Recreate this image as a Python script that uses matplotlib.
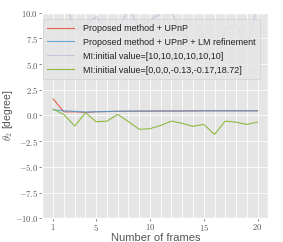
import matplotlib
matplotlib.use("Agg")
import matplotlib.pyplot as plt
from matplotlib.ticker import FuncFormatter, FixedLocator

plt.style.use("ggplot")
plt.rcParams["mathtext.fontset"] = "cm"
plt.rcParams["font.family"] = ["Liberation Sans", "DejaVu Sans"]

frames = list(range(1, 21))
upnp = [1.6, 0.35, 0.35, 0.3, 0.36, 0.38, 0.4, 0.41, 0.42, 0.42, 0.43, 0.43, 0.43, 0.44, 0.45, 0.45, 0.45, 0.45, 0.45, 0.45]
upnp_lm = [0.55, 0.45, 0.4, 0.33, 0.36, 0.38, 0.4, 0.41, 0.42, 0.42, 0.43, 0.43, 0.43, 0.44, 0.45, 0.45, 0.45, 0.45, 0.45, 0.45]
mi_10 = [16.0, 11.5, 8.3, 8.8, 9.6, 8.4, 8.1, 10.4, 8.6, 9.3, 9.9, 9.9, 8.2, 7.0, 8.0, 3.6, 8.5, 8.8, 6.7, 10.6]
mi_0 = [0.62, 0.08, -1.03, 0.26, -0.61, -0.55, 0.1, -0.61, -1.35, -1.29, -0.97, -0.55, -0.77, -1.06, -0.87, -1.84, -0.55, -0.65, -0.87, -0.65]
labels = ["Proposed method + UPnP",
          "Proposed method + UPnP + LM refinement",
          "MI:initial value=[10,10,10,10,10,10]",
          "MI:initial value=[0,0,0,-0.13,-0.17,18.72]"]
major_xticks = [1, 5, 10, 15, 20]
yticks = [-10.0, -7.5, -5.0, -2.5, 0.0, 2.5, 5.0, 7.5, 10.0]

fig = plt.figure(figsize=(2.83, 2.42), dpi=100)
ax = fig.add_axes([0.150, 0.098, 0.798, 0.850])

ax.plot(frames, upnp, color="#E24A33", lw=0.8, alpha=0.85, label=labels[0])
ax.plot(frames, upnp_lm, color="#4A9BD0", lw=0.8, alpha=0.85, label=labels[1])
ax.plot(frames, mi_10, color="#988ED5", lw=0.6, alpha=0.5, label=labels[2])
ax.plot(frames, mi_0, color="#8EBA42", lw=0.8, label=labels[3])

ax.set_xlim(0, 21)
ax.set_ylim(-10, 10)
ax.set_xticks(major_xticks)
ax.xaxis.set_minor_locator(FixedLocator(frames))
ax.set_yticks(yticks)
ax.grid(True, which="both", axis="x", color="white", lw=0.6)
ax.grid(True, which="major", axis="y", color="white", lw=0.6)
ax.tick_params(which="minor", length=0)
ax.tick_params(which="major", length=2, width=0.5, colors="#555555", labelsize=6.2, pad=1)

fmt = FuncFormatter(lambda v, p: "$%s$" % ("%.1f" % v))
ax.yaxis.set_major_formatter(fmt)
ax.xaxis.set_major_formatter(FuncFormatter(lambda v, p: "$%d$" % v))

ax.set_xlabel("Number of frames", fontsize=8, color="#555555", labelpad=0)
ax.set_ylabel(r"$\theta_2$ [degree]", fontsize=7.5, color="#555555", labelpad=0)

leg = ax.legend(loc="upper right", fontsize=6.5, handlelength=3.0, framealpha=0.8,
                borderpad=0.5, labelspacing=0.55, handletextpad=1.0,
                bbox_to_anchor=(0.985, 0.99))
for t in leg.get_texts():
    t.set_color("#222222")

fig.savefig("out.png", dpi=100)
